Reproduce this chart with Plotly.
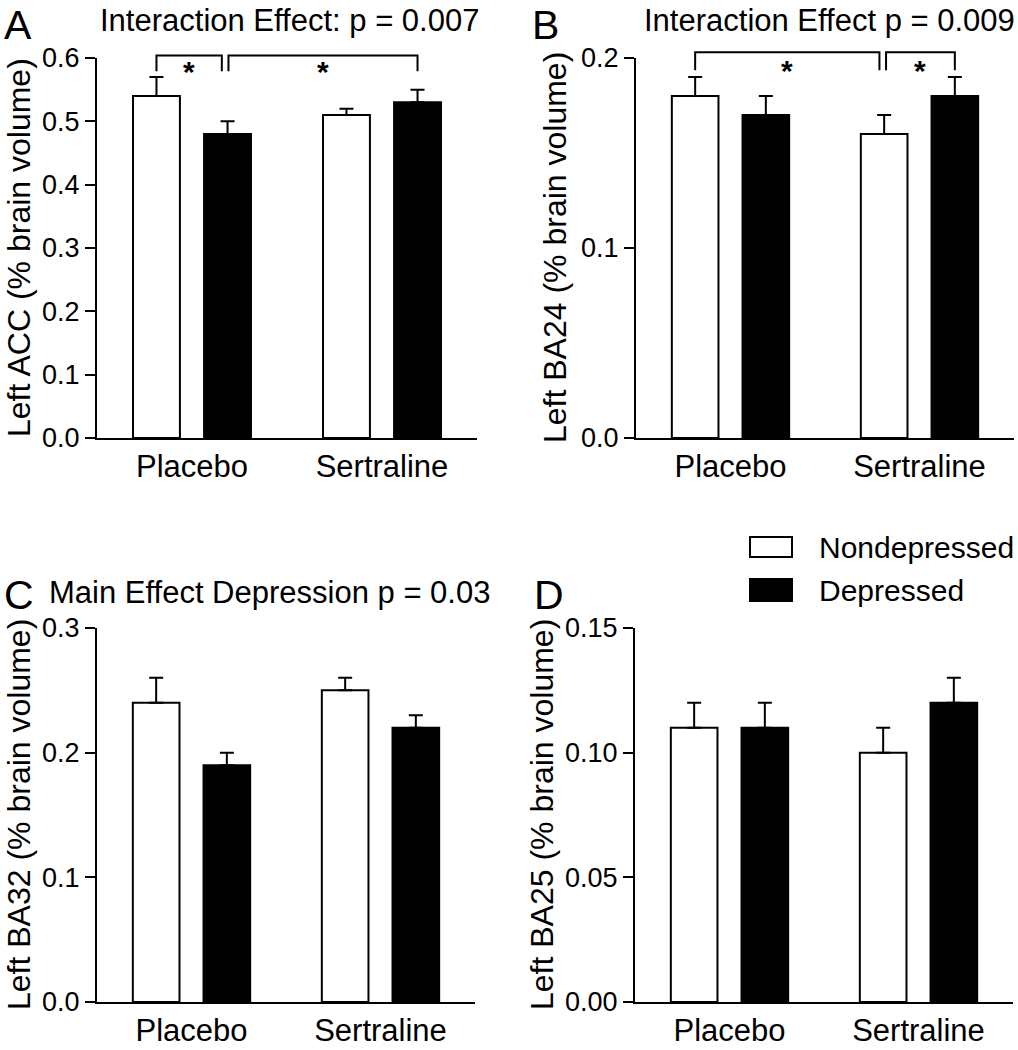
import plotly.graph_objects as go

W, H = 1018, 1050
FONT = "Liberation Sans, Arial, Helvetica, sans-serif"

# ---------------- data ----------------
groups = ["Placebo", "Sertraline"]
series_names = ["Nondepressed", "Depressed"]
series_fill = ["white", "black"]

panel_letters = ["A", "B", "C", "D"]
panel_titles = ["Interaction Effect: p = 0.007", "Interaction Effect p = 0.009",
                "Main Effect Depression p = 0.03", ""]
y_titles = ["Left ACC (% brain volume)", "Left BA24 (% brain volume)",
            "Left BA32 (% brain volume)", "Left BA25 (% brain volume)"]

acc_nondep = [0.54, 0.51]
acc_nondep_sem = [0.03, 0.01]
acc_dep = [0.48, 0.53]
acc_dep_sem = [0.02, 0.02]

ba24_nondep = [0.18, 0.16]
ba24_nondep_sem = [0.01, 0.01]
ba24_dep = [0.17, 0.18]
ba24_dep_sem = [0.01, 0.01]

ba32_nondep = [0.24, 0.25]
ba32_nondep_sem = [0.02, 0.01]
ba32_dep = [0.19, 0.22]
ba32_dep_sem = [0.01, 0.01]

ba25_nondep = [0.11, 0.10]
ba25_nondep_sem = [0.01, 0.01]
ba25_dep = [0.11, 0.12]
ba25_dep_sem = [0.01, 0.01]

y_max = [0.6, 0.2, 0.3, 0.15]
y_tickvals = [[0, 0.1, 0.2, 0.3, 0.4, 0.5, 0.6], [0, 0.1, 0.2],
              [0, 0.1, 0.2, 0.3], [0, 0.05, 0.10, 0.15]]
y_ticktext = [["0.0", "0.1", "0.2", "0.3", "0.4", "0.5", "0.6"], ["0.0", "0.1", "0.2"],
              ["0.0", "0.1", "0.2", "0.3"], ["0.00", "0.05", "0.10", "0.15"]]

# significance brackets: panel, (group, series) start, (group, series) end, top, leg bottom
brackets = [
    (0, (0, 0), (0, 1), 0.604, 0.579),
    (0, (0, 1), (1, 1), 0.604, 0.579),
    (1, (0, 0), (1, 0), 0.203, 0.1935),
    (1, (1, 0), (1, 1), 0.203, 0.1935),
]
bracket_nudge = [(0.0, -0.03), (0.005, 0.0), (0.0, -0.025), (0.01, 0.0)]
star_label = "*"

panel_data = [
    ([acc_nondep, acc_dep], [acc_nondep_sem, acc_dep_sem]),
    ([ba24_nondep, ba24_dep], [ba24_nondep_sem, ba24_dep_sem]),
    ([ba32_nondep, ba32_dep], [ba32_nondep_sem, ba32_dep_sem]),
    ([ba25_nondep, ba25_dep], [ba25_nondep_sem, ba25_dep_sem]),
]

# ---------------- layout geometry (pixels) ----------------
plot_px = [  # left, right, top, bottom
    (97, 477, 58, 438),
    (636, 1014, 58, 438),
    (97, 475, 628, 1002),
    (635, 1013, 628, 1002),
]
ytitle_x = [19, 555, 19, 542]
letter_pos = [(2, 0), (530, 0), (2, 570), (532, 570)]
title_pos = [(98, 20), (642, 20), (47, 592), (0, 0)]

BARGAP = 0.252
BARGROUPGAP = 0.34
slot = (1 - BARGAP) / 2

fig = go.Figure()
layout = dict(
    width=W, height=H, margin=dict(l=0, r=0, t=0, b=0, pad=0, autoexpand=False),
    paper_bgcolor="white", plot_bgcolor="white",
    barmode="group", bargap=BARGAP, bargroupgap=BARGROUPGAP,
    showlegend=False, font=dict(family=FONT, color="black"),
)
annotations = []
shapes = []

for p in range(4):
    sfx = "" if p == 0 else str(p + 1)
    xa, ya = "x" + sfx, "y" + sfx
    l, r, t, b = plot_px[p]
    vals, sems = panel_data[p]
    for s in range(2):
        fig.add_trace(go.Bar(
            x=groups, y=vals[s], name=series_names[s],
            marker=dict(color=series_fill[s], line=dict(color="black", width=2)),
            error_y=dict(type="data", symmetric=False, array=sems[s], arrayminus=[0, 0],
                         color="black", thickness=2, width=7),
            xaxis=xa, yaxis=ya, offsetgroup=str(s),
        ))
    layout["xaxis" + sfx] = dict(
        domain=[l / W, r / W], anchor=ya, type="category", range=[-0.5, 1.5],
        showline=True, linewidth=2, linecolor="black", ticks="", showgrid=False,
        tickfont=dict(size=31, family=FONT, color="black"), ticklabelstandoff=0,
        fixedrange=True, automargin=False,
    )
    layout["yaxis" + sfx] = dict(
        domain=[1 - b / H, 1 - t / H], anchor=xa, range=[0, y_max[p]],
        tickvals=y_tickvals[p], ticktext=y_ticktext[p],
        showline=True, linewidth=2, linecolor="black", ticks="outside",
        ticklen=10, tickwidth=2, tickcolor="black", showgrid=False, zeroline=False,
        tickfont=dict(size=27, family=FONT, color="black"), automargin=False,
        fixedrange=True,
    )
    # y-axis title
    annotations.append(dict(
        text=y_titles[p], xref="paper", yref="paper", x=ytitle_x[p] / W,
        y=1 - (t + b) / 2 / H, textangle=-90, showarrow=False,
        xanchor="center", yanchor="middle", font=dict(size=32, family=FONT),
    ))
    # panel letter
    lx, ly = letter_pos[p]
    annotations.append(dict(
        text=panel_letters[p], xref="paper", yref="paper", x=lx / W, y=1 - ly / H,
        showarrow=False, xanchor="left", yanchor="top", font=dict(size=41, family=FONT),
    ))
    if panel_titles[p]:
        tx, ty = title_pos[p]
        annotations.append(dict(
            text=panel_titles[p], xref="paper", yref="paper", x=tx / W, y=1 - ty / H,
            showarrow=False, xanchor="left", yanchor="middle", font=dict(size=31, family=FONT),
        ))

# brackets
for i, (p, (g0, s0), (g1, s1), top, leg) in enumerate(brackets):
    sfx = "" if p == 0 else str(p + 1)
    xa, ya = "x" + sfx, "y" + sfx
    x0 = g0 + (s0 - 0.5) * slot + bracket_nudge[i][0]
    x1 = g1 + (s1 - 0.5) * slot + bracket_nudge[i][1]
    yt = top / y_max[p]
    yl = leg / y_max[p]
    shapes.append(dict(
        type="path", xref=xa, yref=ya + " domain",
        path=f"M {x0},{yl} L {x0},{yt} L {x1},{yt} L {x1},{yl}",
        line=dict(color="black", width=2),
    ))
    annotations.append(dict(
        text="<b>" + star_label + "</b>", xref=xa, yref=ya + " domain",
        x=(x0 + x1) / 2, y=yl, showarrow=False, xanchor="center", yanchor="middle",
        font=dict(size=30, family=FONT),
    ))

# legend (drawn manually)
leg_x0, leg_x1, text_x = 750, 792, 817
leg_rows = [(537, 557, 547), (579, 601, 590)]
for s in range(2):
    y0, y1, yc = leg_rows[s]
    shapes.append(dict(type="rect", xref="paper", yref="paper",
                       x0=leg_x0 / W, x1=leg_x1 / W, y0=1 - y1 / H, y1=1 - y0 / H,
                       fillcolor=series_fill[s], line=dict(color="black", width=2)))
    annotations.append(dict(
        text=series_names[s], xref="paper", yref="paper", x=text_x / W, y=1 - yc / H,
        showarrow=False, xanchor="left", yanchor="middle", font=dict(size=30, family=FONT),
    ))

layout["annotations"] = annotations
layout["shapes"] = shapes
fig.update_layout(**layout)
fig.write_html(
    "out.html",
    config={"displayModeBar": False, "staticPlot": True},
    post_script="document.body.style.margin='0';document.body.style.overflow='hidden';",
)
